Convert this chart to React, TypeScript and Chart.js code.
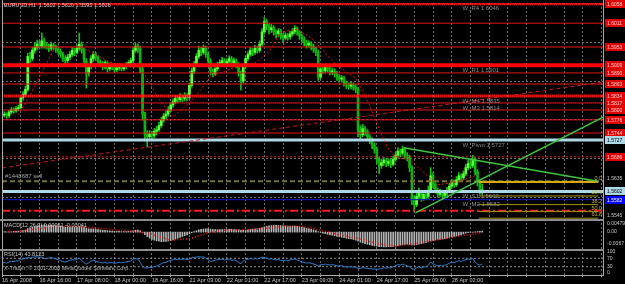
import { useEffect, useRef } from 'react';
import { Chart, registerables } from 'chart.js';

Chart.register(...registerables);

// ---------------- data ----------------
const dateLabels = ['16 Apr 2008', '16 Apr 16:00', '17 Apr 08:00', '18 Apr 00:00', '18 Apr 16:00', '21 Apr 09:00', '22 Apr 01:00', '22 Apr 17:00', '23 Apr 09:00', '24 Apr 01:00', '24 Apr 17:00', '25 Apr 09:00', '28 Apr 02:00'];
const slotCount = 257;
const firstOpen = 1.5785;
const closes = [
  1.5788, 1.5790, 1.5786, 1.5795, 1.5800, 1.5798, 1.5803, 1.5806, 1.5830, 1.5838,
  1.5850, 1.5930, 1.5925, 1.5945, 1.5952, 1.5960, 1.5955, 1.5968, 1.5958, 1.5955,
  1.5950, 1.5958, 1.5953, 1.5948, 1.5942, 1.5935, 1.5925, 1.5920, 1.5928, 1.5935,
  1.5945, 1.5940, 1.5950, 1.5960, 1.5945, 1.5920, 1.5890, 1.5905, 1.5925, 1.5935,
  1.5928, 1.5918, 1.5912, 1.5905, 1.5915, 1.5900, 1.5908, 1.5905, 1.5898, 1.5902,
  1.5908, 1.5900, 1.5905, 1.5910, 1.5915, 1.5920, 1.5945, 1.5955, 1.5950, 1.5900,
  1.5790, 1.5740, 1.5735, 1.5742, 1.5738, 1.5748, 1.5752, 1.5762, 1.5775, 1.5785,
  1.5790, 1.5800, 1.5812, 1.5820, 1.5828, 1.5825, 1.5832, 1.5828, 1.5835, 1.5830,
  1.5860, 1.5895, 1.5910, 1.5930, 1.5945, 1.5940, 1.5950, 1.5935, 1.5920, 1.5895,
  1.5888, 1.5900, 1.5910, 1.5915, 1.5920, 1.5912, 1.5918, 1.5925, 1.5915, 1.5920,
  1.5910, 1.5890, 1.5870, 1.5905, 1.5925, 1.5935, 1.5945, 1.5940, 1.5950, 1.5945,
  1.5960, 1.5990, 1.6015, 1.6005, 1.5995, 1.6000, 1.5990, 1.5985, 1.5992, 1.5980,
  1.5975, 1.5982, 1.5978, 1.5985, 1.5990, 1.5998, 1.5990, 1.5980, 1.5972, 1.5965,
  1.5958, 1.5962, 1.5955, 1.5948, 1.5940, 1.5880, 1.5900, 1.5895, 1.5905, 1.5898,
  1.5892, 1.5895, 1.5888, 1.5880, 1.5875, 1.5878, 1.5865, 1.5860, 1.5858, 1.5862,
  1.5855, 1.5850, 1.5750, 1.5740, 1.5755, 1.5748, 1.5735, 1.5728, 1.5715, 1.5705,
  1.5680, 1.5665, 1.5672, 1.5678, 1.5670, 1.5675, 1.5668, 1.5680, 1.5690, 1.5700,
  1.5695, 1.5705, 1.5690, 1.5685, 1.5660, 1.5580, 1.5570, 1.5590, 1.5598, 1.5585,
  1.5595, 1.5590, 1.5605, 1.5640, 1.5620, 1.5605, 1.5595, 1.5600, 1.5592, 1.5598,
  1.5605, 1.5615, 1.5625, 1.5618, 1.5630, 1.5640, 1.5635, 1.5645, 1.5660, 1.5670,
  1.5665, 1.5680, 1.5650, 1.5625, 1.5602, 1.5606,
];
const highs = [
  1.5794, 1.5796, 1.5793, 1.5799, 1.5806, 1.5805, 1.5808, 1.5812, 1.5836, 1.5845,
  1.5858, 1.5938, 1.5940, 1.5952, 1.5962, 1.5970, 1.5968, 1.5987, 1.5975, 1.5964,
  1.5960, 1.5965, 1.5962, 1.5958, 1.5955, 1.5948, 1.5940, 1.5932, 1.5935, 1.5942,
  1.5952, 1.5950, 1.5958, 1.5987, 1.5965, 1.5950, 1.5925, 1.5912, 1.5932, 1.5942,
  1.5940, 1.5932, 1.5922, 1.5918, 1.5920, 1.5918, 1.5914, 1.5912, 1.5910, 1.5908,
  1.5913, 1.5912, 1.5910, 1.5915, 1.5920, 1.5926, 1.5952, 1.5962, 1.5960, 1.5955,
  1.5905, 1.5795, 1.5750, 1.5750, 1.5748, 1.5755, 1.5760, 1.5770, 1.5782, 1.5792,
  1.5798, 1.5808, 1.5818, 1.5827, 1.5835, 1.5834, 1.5840, 1.5838, 1.5842, 1.5840,
  1.5866, 1.5902, 1.5918, 1.5937, 1.5955, 1.5952, 1.5958, 1.5955, 1.5940, 1.5925,
  1.5900, 1.5906, 1.5916, 1.5922, 1.5928, 1.5925, 1.5924, 1.5932, 1.5930, 1.5926,
  1.5924, 1.5915, 1.5895, 1.5910, 1.5930, 1.5942, 1.5952, 1.5950, 1.5957, 1.5955,
  1.5968, 1.5998, 1.6025, 1.6020, 1.6010, 1.6008, 1.6005, 1.5995, 1.5998, 1.5996,
  1.5986, 1.5988, 1.5986, 1.5992, 1.5998, 1.6005, 1.6002, 1.5994, 1.5985, 1.5978,
  1.5970, 1.5968, 1.5966, 1.5960, 1.5952, 1.5945, 1.5908, 1.5906, 1.5912, 1.5910,
  1.5904, 1.5902, 1.5900, 1.5894, 1.5886, 1.5884, 1.5882, 1.5870, 1.5866, 1.5868,
  1.5866, 1.5862, 1.5855, 1.5762, 1.5765, 1.5760, 1.5752, 1.5740, 1.5732, 1.5720,
  1.5710, 1.5685, 1.5680, 1.5685, 1.5682, 1.5682, 1.5680, 1.5688, 1.5698, 1.5708,
  1.5705, 1.5712, 1.5708, 1.5696, 1.5690, 1.5665, 1.5592, 1.5598, 1.5610, 1.5604,
  1.5602, 1.5600, 1.5615, 1.5660, 1.5648, 1.5626, 1.5610, 1.5607, 1.5605, 1.5605,
  1.5612, 1.5622, 1.5632, 1.5630, 1.5638, 1.5648, 1.5645, 1.5652, 1.5668, 1.5678,
  1.5676, 1.5690, 1.5684, 1.5655, 1.5630, 1.5620,
];
const lows = [
  1.5780, 1.5783, 1.5780, 1.5782, 1.5790, 1.5792, 1.5794, 1.5798, 1.5803, 1.5824,
  1.5832, 1.5845, 1.5915, 1.5920, 1.5938, 1.5946, 1.5948, 1.5950, 1.5950, 1.5948,
  1.5942, 1.5945, 1.5946, 1.5940, 1.5935, 1.5928, 1.5918, 1.5912, 1.5915, 1.5922,
  1.5930, 1.5932, 1.5936, 1.5945, 1.5938, 1.5910, 1.5853, 1.5882, 1.5900, 1.5918,
  1.5920, 1.5910, 1.5905, 1.5898, 1.5900, 1.5892, 1.5895, 1.5898, 1.5892, 1.5893,
  1.5897, 1.5895, 1.5896, 1.5900, 1.5905, 1.5910, 1.5915, 1.5940, 1.5940, 1.5890,
  1.5775, 1.5725, 1.5710, 1.5728, 1.5730, 1.5732, 1.5740, 1.5748, 1.5758, 1.5770,
  1.5778, 1.5785, 1.5795, 1.5806, 1.5815, 1.5818, 1.5820, 1.5820, 1.5822, 1.5822,
  1.5826, 1.5855, 1.5888, 1.5905, 1.5925, 1.5932, 1.5935, 1.5928, 1.5912, 1.5885,
  1.5880, 1.5884, 1.5895, 1.5905, 1.5910, 1.5905, 1.5906, 1.5912, 1.5908, 1.5910,
  1.5902, 1.5882, 1.5848, 1.5865, 1.5900, 1.5920, 1.5930, 1.5932, 1.5935, 1.5938,
  1.5940, 1.5955, 1.5985, 1.5995, 1.5985, 1.5988, 1.5982, 1.5975, 1.5978, 1.5972,
  1.5966, 1.5970, 1.5970, 1.5972, 1.5980, 1.5985, 1.5982, 1.5972, 1.5965, 1.5956,
  1.5950, 1.5952, 1.5946, 1.5940, 1.5932, 1.5872, 1.5876, 1.5888, 1.5890, 1.5892,
  1.5885, 1.5886, 1.5880, 1.5872, 1.5868, 1.5868, 1.5858, 1.5852, 1.5850, 1.5852,
  1.5848, 1.5842, 1.5735, 1.5730, 1.5735, 1.5738, 1.5726, 1.5718, 1.5706, 1.5695,
  1.5670, 1.5645, 1.5658, 1.5665, 1.5662, 1.5664, 1.5660, 1.5664, 1.5675, 1.5684,
  1.5686, 1.5690, 1.5682, 1.5676, 1.5650, 1.5570, 1.5552, 1.5565, 1.5584, 1.5578,
  1.5580, 1.5582, 1.5585, 1.5600, 1.5612, 1.5598, 1.5588, 1.5590, 1.5585, 1.5588,
  1.5592, 1.5600, 1.5610, 1.5612, 1.5614, 1.5625, 1.5628, 1.5630, 1.5640, 1.5655,
  1.5658, 1.5660, 1.5642, 1.5615, 1.5595, 1.5595,
];
// red dotted moving line over the price
const maIdx = [6.8, 12, 22.6, 33.3, 36.3, 46.2, 55.6, 59, 67.5, 73.1, 80.3, 84.6, 88.9, 91, 101.7, 108.1, 114.5, 118.8, 126.1, 131.6, 137.2, 141.5, 147.4, 150.9, 156, 161.5, 164.5, 167.1, 170.1, 174.4, 185.9, 194.4, 203];
const maVal = [1.5788, 1.5836, 1.5953, 1.5953, 1.5945, 1.5916, 1.5904, 1.5904, 1.5822, 1.5783, 1.5819, 1.5848, 1.5880, 1.5885, 1.5909, 1.5914, 1.5945, 1.5989, 1.5996, 1.5977, 1.5945, 1.5916, 1.5890, 1.5878, 1.5824, 1.5746, 1.5710, 1.5691, 1.5683, 1.5678, 1.5618, 1.5625, 1.5642];
const macd = [
  0.0003, 0.0002, 0.0001, 0.0002, 0.0003, 0.0004, 0.0005, 0.0006, 0.0008, 0.0010, 0.0012, 0.0020, 0.0024, 0.0028,
  0.0032, 0.0035, 0.0037, 0.0040, 0.0041, 0.0041, 0.0040, 0.0040, 0.0039, 0.0037, 0.0035, 0.0033, 0.0030, 0.0028, 0.0027, 0.0027, 0.0028, 0.0028, 0.0029, 0.0031, 0.0030, 0.0027, 0.0022, 0.0019, 0.0018,
  0.0018, 0.0017, 0.0015, 0.0013, 0.0011, 0.0010, 0.0008, 0.0007, 0.0006, 0.0005, 0.0004, 0.0004, 0.0003, 0.0003, 0.0003, 0.0004, 0.0005, 0.0008, 0.0011, 0.0012, 0.0008,
  -0.0003, -0.0015, -0.0026, -0.0034, -0.0041, -0.0046, -0.0050, -0.0052, -0.0054, -0.0054, -0.0053, -0.0051, -0.0048, -0.0044, -0.0040, -0.0035, -0.0030, -0.0025, -0.0020, -0.0016,
  -0.0010, -0.0003, 0.0003, 0.0008, 0.0013, 0.0016, 0.0018, 0.0019, 0.0019, 0.0017,
  0.0015, 0.0014, 0.0014, 0.0014, 0.0015, 0.0015, 0.0015, 0.0016, 0.0016, 0.0016, 0.0015, 0.0013, 0.0010, 0.0010, 0.0011, 0.0013, 0.0015, 0.0017, 0.0018, 0.0019, 0.0021, 0.0025,
  0.0030, 0.0033, 0.0035, 0.0037, 0.0038, 0.0038, 0.0038, 0.0037, 0.0036, 0.0035, 0.0034, 0.0034, 0.0034, 0.0034,
  0.0033, 0.0031, 0.0028, 0.0025, 0.0022, 0.0019, 0.0016, 0.0013, 0.0009,
  0.0002, -0.0002, -0.0006, -0.0009, -0.0012, -0.0015, -0.0018, -0.0021, -0.0024, -0.0027, -0.0029, -0.0032, -0.0035, -0.0037, -0.0039, -0.0042,
  -0.0046, -0.0052, -0.0057, -0.0061, -0.0065, -0.0069, -0.0072, -0.0075, -0.0078, -0.0080, -0.0082, -0.0083, -0.0084, -0.0084, -0.0083, -0.0082,
  -0.0082, -0.0080, -0.0077, -0.0074, -0.0071, -0.0070, -0.0069, -0.0070, -0.0073, -0.0074, -0.0072, -0.0069, -0.0066, -0.0063, -0.0060, -0.0056, -0.0050, -0.0047, -0.0045, -0.0043,
  -0.0041, -0.0039, -0.0037, -0.0034, -0.0031, -0.0028, -0.0025, -0.0022, -0.0019, -0.0015, -0.0011, -0.0006, -0.0003, -0.0001, -0.0001, 0.0001, 0.0003, 0.0004, 0.0006,
];
const signalIdx = [0, 8, 16, 24, 32, 40, 48, 56, 64, 72, 80, 88, 96, 104, 112, 120, 128, 136, 144, 152, 160, 168, 176, 184, 192, 200, 205];
const signalVal = [0.0002, 0.0004, 0.0020, 0.0036, 0.0031, 0.0024, 0.0012, 0.0006, -0.0012, -0.0046, -0.0038, -0.0005, 0.0013, 0.0013, 0.0020, 0.0034, 0.0033, 0.0012, -0.0016, -0.0036, -0.0064, -0.0080, -0.0066, -0.0048, -0.0030, -0.0013, -0.0004];
const rsi = [
  48, 50, 47, 53, 56, 55, 57, 58, 65, 67, 70,
  74, 72, 75, 76, 77, 74, 76, 70,
  68, 71, 74, 70, 67, 63, 59, 54, 52, 56, 60, 64, 61, 66, 70, 60, 50,
  42, 48, 57, 61, 57, 53, 50, 47, 52, 46, 50, 49, 46, 48, 51, 48, 50, 53, 55, 57, 66, 69, 66, 52,
  30, 24, 24, 27, 26, 31, 33, 38, 44, 49, 51, 56, 60, 63, 66, 64, 67, 64, 67, 64,
  66, 72, 74, 76, 78, 75, 77, 70, 64, 55,
  57, 61, 64, 65, 66, 62, 64, 67, 60, 63, 58, 50, 44, 57, 63, 66, 69, 66, 69, 66, 71, 75,
  74, 70, 66, 68, 64, 62, 65, 60, 58, 61, 59, 62, 64, 67, 62, 57, 53, 50, 47, 49, 46, 43, 40,
  33, 40, 39, 43, 40, 38, 40, 37, 34, 33, 35, 30, 29, 28, 30, 28, 27,
  22, 21, 26, 24, 22, 21, 20, 19, 18, 18, 22, 25, 23, 26, 24, 30, 35, 40, 38, 43, 37, 35, 29,
  20, 19, 25, 30, 24, 30, 28, 37, 52, 44, 38, 34, 37, 33, 37, 41, 47, 52, 48, 54, 58, 55, 59, 64, 67, 64, 69, 52, 41, 38, 43.8,
];
const mainRange = [1.5535, 1.6060];
const macdRange = [-0.00958, 0.00743];
const rsiRange = [-14.3, 114.3];
const gridPrices = [1.6058, 1.5964, 1.5870, 1.5776, 1.5682, 1.5588];
const redLevels = [1.6011, 1.5953, 1.5890, 1.5863, 1.5817, 1.5800, 1.5776, 1.5744];
const redThickLevels = [1.5909];
const redDottedThickLevels = [1.6058, 1.5834];
const redDottedLevels = [1.5686];
const pivotLevels = [1.5727, 1.5602];
const blueLevels = [1.5582];
const dashDotLevels = [1.5555];
const orderLevels = [1.5627];
const orderText = '#1448687 sell';
const fibLevels = [1.5625, 1.5591, 1.5570, 1.5553, 1.5537];
const fibLabels = ['0.0', '23.6', '38.2', '50.0', '61.8'];
const fibIdx = [203.5, 254.5];
const trendIdx = [0, 257];
const trendVal = [1.5659, 1.5868];
const greenAIdx = [171.4, 254.3];
const greenAVal = [1.5708, 1.5627];
const greenBIdx = [176.5, 257];
const greenBVal = [1.5550, 1.5784];
const pivotNames = ['W_R4 1.6046', 'W_R1 1.5901', 'W_M4 1.5835', 'W_M3 1.5814', 'W_Pivot 1.5727', 'W_S1 1.5602', 'W_M2 1.5582'];
const pivotNamePrices = [1.6058, 1.5909, 1.5834, 1.5817, 1.5727, 1.5602, 1.5582];
const pivotNameIdx = 196.6;
const redTagPrices = [1.6058, 1.6011, 1.5953, 1.5909, 1.5890, 1.5863, 1.5834, 1.5817, 1.5800, 1.5776, 1.5744, 1.5686];
const lightTagPrices = [1.5727, 1.5602];
const blueTagPrices = [1.5582];
const plainTagPrices = [1.5635, 1.5545];
const macdTicks = [0.00479, 0, -0.0067];
const macdTickText = ['0.00479', '0.00', '-0.0067'];
const rsiTicks = [100, 70, 30, 0];
const rsiLevels = [70, 30];
const titleText = 'EURUSD,H1  1.5602 1.5620 1.5595 1.5606';
const macdTitle = 'MACD(12,26,9) 0.00061 -0.00041';
const rsiTitle = 'RSI(14) 43.8123';
const copyright = 'X-Trader, \u00a9 2001-2008 MetaQuotes Software Corp.';

// ---------------- styles ----------------
const FONT = '"Liberation Sans", Arial, sans-serif';
const GRID = '#6c6c6c';
const FRAME = '#a8a8a8';
const SEP = '#8c8c8c';
const RED = '#e81414';
const LIGHTBLUE = '#add8e6';
const BULL = '#5cff3c';
const BEAR = '#0fb40f';
const WICK = '#16c016';
const TXT = '#c8c8c8';

const pts = (idx: number[], val: number[]) => idx.map((x, k) => ({ x, y: val[k] }));
const hLine = (p: number, color: string, width: number, dash: number[], order: number, from = 0, to = slotCount) => ({
  type: 'line', data: [{ x: from, y: p }, { x: to, y: p }], borderColor: color, borderWidth: width,
  borderDash: dash, pointRadius: 0, fill: false, order, borderCapStyle: 'butt', tension: 0,
});
const seg = (idx: number[], val: number[], color: string, width: number, dash: number[], order: number) => ({
  type: 'line', data: pts(idx, val), borderColor: color, borderWidth: width, borderDash: dash,
  pointRadius: 0, fill: false, order, tension: 0,
});

const xAxis = (withLabels: boolean, h: number) => ({
  type: 'linear', min: 0, max: slotCount, offset: false,
  afterFit: (s: any) => { s.height = h; },
  ticks: withLabels ? {
    display: true, stepSize: 8, includeBounds: false, autoSkip: false, maxRotation: 0, minRotation: 0,
    align: 'start', padding: 0, color: TXT, font: { family: FONT, size: 5.5 },
    callback: (v: number) => (v % 16 === 0 ? (dateLabels[v / 16] ?? '') : ''),
  } : { display: false, stepSize: 8, includeBounds: false },
  grid: { color: GRID, offset: false, drawTicks: withLabels, tickLength: 1, tickColor: '#a0a0a0', lineWidth: 1 },
  border: { display: false, dash: [2, 2] },
});
const yAxis = (range: number[], gridTicks: number[] | null) => ({
  type: 'linear', position: 'right', min: range[0], max: range[1], beginAtZero: false,
  afterFit: (s: any) => { s.width = 21; },
  afterBuildTicks: gridTicks ? (s: any) => { s.ticks = gridTicks.map((v) => ({ value: v })); } : undefined,
  ticks: { display: false },
  grid: { display: !!gridTicks, color: GRID, drawTicks: false },
  border: { display: false, dash: [2, 2] },
});

const baseOptions = (scales: any, padding: any) => ({
  responsive: false, animation: false, events: [],
  layout: { padding },
  plugins: { legend: { display: false }, tooltip: { enabled: false } },
  scales,
});

function frame(ctx: any, a: any, h: number) {
  ctx.fillStyle = FRAME;
  ctx.fillRect(a.left, 0, 1, h);
  ctx.fillRect(a.right - 1, 0, 1, h);
}

function makeMain(canvas: HTMLCanvasElement) {
  const opens = closes.map((c, i) => (i === 0 ? firstOpen : closes[i - 1]));
  const datasets: any[] = [
    { type: 'bar', data: highs.map((h, i) => ({ x: i, y: [lows[i], h] })), backgroundColor: WICK, barThickness: 1, grouped: false, order: 100 },
    { type: 'bar', data: closes.map((c, i) => ({ x: i, y: [opens[i], c] })), backgroundColor: closes.map((c, i) => (c >= opens[i] ? BULL : BEAR)), barThickness: 2, grouped: false, order: 99 },
  ];
  redLevels.forEach((p) => datasets.push(hLine(p, RED, 1, [], 60)));
  redThickLevels.forEach((p) => datasets.push(hLine(p, '#ff0000', 4, [], 60)));
  redDottedThickLevels.forEach((p) => datasets.push(hLine(p, '#ff1010', 3, [1, 1], 60)));
  redDottedLevels.forEach((p) => datasets.push(hLine(p, RED, 1, [2, 2], 60)));
  orderLevels.forEach((p) => datasets.push(hLine(p, '#74742a', 2, [5, 3], 58)));
  pivotLevels.forEach((p) => datasets.push(hLine(p, LIGHTBLUE, 3, [], 55)));
  blueLevels.forEach((p) => datasets.push(hLine(p, '#1818c8', 1, [], 55)));
  dashDotLevels.forEach((p) => datasets.push(hLine(p, '#ff1a1a', 2, [8, 3, 2, 3], 55)));
  fibLevels.forEach((p, k) => datasets.push(hLine(p, k === 0 ? '#d8a810' : '#a09410', k === 0 ? 2 : 1, [], 50, fibIdx[0], fibIdx[1])));
  datasets.push(seg(trendIdx, trendVal, '#d01818', 1, [4, 3], 40));
  datasets.push(seg(maIdx, maVal, '#e01010', 1, [2, 2], 30));
  datasets.push(seg(greenAIdx, greenAVal, '#3cc83c', 1.5, [], 10));
  datasets.push(seg(greenBIdx, greenBVal, '#3cc83c', 1.5, [], 10));

  const deco = {
    id: 'decoMain',
    afterDraw(chart: any) {
      const { ctx, chartArea: a, scales } = chart;
      const x = scales.x; const y = scales.y;
      ctx.save();
      frame(ctx, a, chart.height);
      ctx.font = `6px ${FONT}`;
      ctx.textAlign = 'left'; ctx.textBaseline = 'top';
      ctx.fillStyle = '#8c8c8c';
      pivotNames.forEach((t, k) => ctx.fillText(t, x.getPixelForValue(pivotNameIdx), y.getPixelForValue(pivotNamePrices[k]) + 2));
      ctx.fillStyle = '#a0a0a0';
      ctx.textBaseline = 'bottom';
      orderLevels.forEach((p) => ctx.fillText(orderText, a.left + 3, y.getPixelForValue(p) - 2));
      ctx.font = `5.5px ${FONT}`;
      ctx.fillStyle = '#c8b428'; ctx.textAlign = 'right';
      fibLevels.forEach((p, k) => ctx.fillText(fibLabels[k], x.getPixelForValue(fibIdx[1]) + 4, y.getPixelForValue(p) - 0.5));
      ctx.textAlign = 'left'; ctx.textBaseline = 'top'; ctx.fillStyle = '#d0d0d0';
      ctx.fillText(titleText, a.left + 2, 3);
      // right axis tags
      ctx.font = `5px ${FONT}`;
      ctx.textBaseline = 'middle';
      const tag = (p: number, bg: string | null, fg: string) => {
        const yy = Math.round(y.getPixelForValue(p));
        if (bg) { ctx.fillStyle = bg; ctx.fillRect(a.right + 1, yy - 4, 20, 8); }
        ctx.fillStyle = fg;
        ctx.fillText(p.toFixed(4), a.right + 3, yy + 0.5);
      };
      redTagPrices.forEach((p) => tag(p, '#e00000', '#ffd0d0'));
      lightTagPrices.forEach((p) => tag(p, LIGHTBLUE, '#000000'));
      blueTagPrices.forEach((p) => tag(p, '#0000ff', '#ffffff'));
      plainTagPrices.forEach((p) => tag(p, null, TXT));
      ctx.restore();
    },
  };

  return new Chart(canvas, {
    type: 'bar',
    data: { datasets },
    options: baseOptions({ x: xAxis(false, 0), y: yAxis(mainRange, gridPrices) }, { left: 2, top: 3, right: 0, bottom: 0 }),
    plugins: [deco],
  } as any);
}

function makeMacd(canvas: HTMLCanvasElement) {
  const datasets: any[] = [
    { type: 'bar', data: macd.map((v, i) => ({ x: i, y: v })), backgroundColor: '#b4b4b4', barThickness: 1, grouped: false, order: 10 },
    seg(signalIdx, signalVal, '#ff1414', 1.5, [1, 2], 1),
  ];
  const deco = {
    id: 'decoMacd',
    afterDraw(chart: any) {
      const { ctx, chartArea: a, scales } = chart;
      ctx.save();
      frame(ctx, a, chart.height);
      ctx.fillStyle = SEP;
      ctx.fillRect(0, 0, a.right, 2);
      ctx.font = `5.5px ${FONT}`;
      ctx.textAlign = 'left'; ctx.textBaseline = 'top'; ctx.fillStyle = TXT;
      ctx.fillText(macdTitle, a.left + 2, 4);
      ctx.font = `5px ${FONT}`; ctx.textBaseline = 'middle';
      macdTicks.forEach((v, k) => ctx.fillText(macdTickText[k], a.right + 3, scales.y.getPixelForValue(v)));
      ctx.restore();
    },
  };
  return new Chart(canvas, {
    type: 'bar',
    data: { datasets },
    options: baseOptions({ x: xAxis(false, 0), y: yAxis(macdRange, null) }, { left: 2, top: 0, right: 0, bottom: 0 }),
    plugins: [deco],
  } as any);
}

function makeRsi(canvas: HTMLCanvasElement) {
  const datasets: any[] = [
    { type: 'line', data: rsi.map((v, i) => ({ x: i, y: v })), borderColor: '#2a7fd4', borderWidth: 1, pointRadius: 0, fill: false, tension: 0, order: 1 },
  ];
  rsiLevels.forEach((p) => datasets.push(hLine(p, '#8c8c8c', 1, [2, 2], 5)));
  const deco = {
    id: 'decoRsi',
    afterDraw(chart: any) {
      const { ctx, chartArea: a, scales } = chart;
      ctx.save();
      frame(ctx, { left: a.left, right: a.right }, a.bottom);
      ctx.fillStyle = FRAME;
      ctx.fillRect(a.left, a.bottom - 1, a.right - a.left, 1);
      ctx.fillStyle = SEP;
      ctx.fillRect(0, 0, a.right, 2);
      ctx.font = `5.5px ${FONT}`;
      ctx.textAlign = 'left'; ctx.textBaseline = 'top'; ctx.fillStyle = TXT;
      ctx.fillText(rsiTitle, a.left + 2, 3);
      ctx.fillStyle = '#b4b4b4';
      ctx.fillText(copyright, a.left + 2, 17);
      ctx.font = `5px ${FONT}`; ctx.textBaseline = 'middle'; ctx.fillStyle = TXT;
      rsiTicks.forEach((v) => ctx.fillText(String(v), a.right + 3, scales.y.getPixelForValue(v)));
      ctx.restore();
    },
  };
  return new Chart(canvas, {
    type: 'line',
    data: { datasets },
    options: baseOptions({ x: xAxis(true, 8), y: yAxis(rsiRange, null) }, { left: 2, top: 0, right: 0, bottom: 0 }),
    plugins: [deco],
  } as any);
}

export default function App() {
  const aRef = useRef<HTMLCanvasElement>(null);
  const bRef = useRef<HTMLCanvasElement>(null);
  const cRef = useRef<HTMLCanvasElement>(null);
  useEffect(() => {
    const charts = [makeMain(aRef.current!), makeMacd(bRef.current!), makeRsi(cRef.current!)];
    return () => charts.forEach((c) => c.destroy());
  }, []);
  return (
    <div style={{ position: 'fixed', left: 0, top: 0, width: 625, height: 284, background: '#000', overflow: 'hidden' }}>
      <canvas ref={aRef} width={625} height={219} style={{ position: 'absolute', left: 0, top: 0 }} />
      <canvas ref={bRef} width={625} height={30} style={{ position: 'absolute', left: 0, top: 219 }} />
      <canvas ref={cRef} width={625} height={35} style={{ position: 'absolute', left: 0, top: 249 }} />
    </div>
  );
}
